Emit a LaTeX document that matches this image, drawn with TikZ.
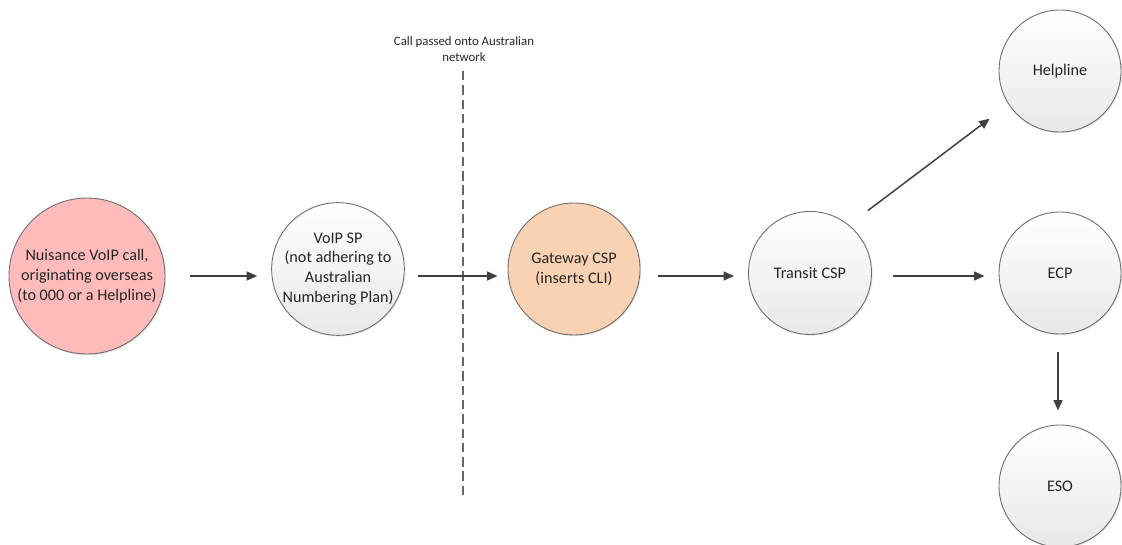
\documentclass[tikz,border=0pt]{standalone}
\usepackage{fontspec}
\setmainfont{Carlito}
\usetikzlibrary{arrows.meta,shadows}
\definecolor{txt}{HTML}{262626}
\definecolor{edge}{HTML}{6E6E6E}
\definecolor{arrc}{HTML}{404040}
\definecolor{pinkf}{HTML}{FFBABA}
\definecolor{peachf}{HTML}{F9D1B3}
\tikzset{
  circ/.style={circle, draw=edge, line width=0.9pt, inner sep=0pt, align=center,
    text=txt, font=\fontsize{16.2}{19.8}\selectfont,
    drop shadow={opacity=0.18, shadow xshift=1.2pt, shadow yshift=-1.2pt}},
  neutral/.style={circ, top color=white, bottom color=black!9},
  arr/.style={draw=arrc, line width=1.5pt, -{Triangle[length=10.5pt,width=9pt]}},
  divider/.style={draw=black!60, line width=1.6pt, dash pattern=on 9.5pt off 4.8pt},
  lbl/.style={align=center, text=txt, font=\fontsize{12.8}{16}\selectfont}
}
\begin{document}
\begin{tikzpicture}[x=1pt,y=-1pt]
\useasboundingbox (0,0) rectangle (1122,545);
\node[circ, fill=pinkf, minimum size=156pt] (nuis) at (87,276)
  {Nuisance VoIP call,\\originating overseas\\(to 000 or a Helpline)};
\node[neutral, minimum size=132pt] (voip) at (338,269)
  {VoIP SP\\(not adhering to\\Australian\\Numbering Plan)};
\node[circ, fill=peachf, minimum size=132pt] (gate) at (574,269)
  {Gateway CSP\\(inserts CLI)};
\node[neutral, minimum size=123pt] (transit) at (810,273) {Transit CSP};
\node[neutral, minimum size=122pt] (help) at (1060,71) {Helpline};
\node[neutral, minimum size=122pt] (ecp) at (1060,273) {ECP};
\node[neutral, minimum size=122pt] (eso) at (1060,486) {ESO};
\node[lbl] (note) at (464,49) {Call passed onto Australian\\network};
\coordinate (dtop) at (463,71);
\coordinate (dbot) at (463,498);
\draw[divider] (dtop) -- (dbot);
\draw[arr, shorten <=25pt, shorten >=14pt] (nuis.east) -- (nuis.east -| voip.west);
\draw[arr, shorten <=13pt, shorten >=10pt] (voip.east |- nuis.east) -- (gate.west |- nuis.east);
\draw[arr, shorten <=18pt, shorten >=14pt] (gate.east |- nuis.east) -- (transit.west |- nuis.east);
\draw[arr, shorten <=21pt, shorten >=14pt] (transit.east |- nuis.east) -- (ecp.west |- nuis.east);
\draw[arr, shorten <=18pt, shorten >=14pt] ([xshift=-2pt]ecp.south) -- ([xshift=-2pt]eso.north);
\draw[arr, shorten <=23.6pt, shorten >=23.6pt] (transit.51) -- (help.213);
\end{tikzpicture}
\end{document}
